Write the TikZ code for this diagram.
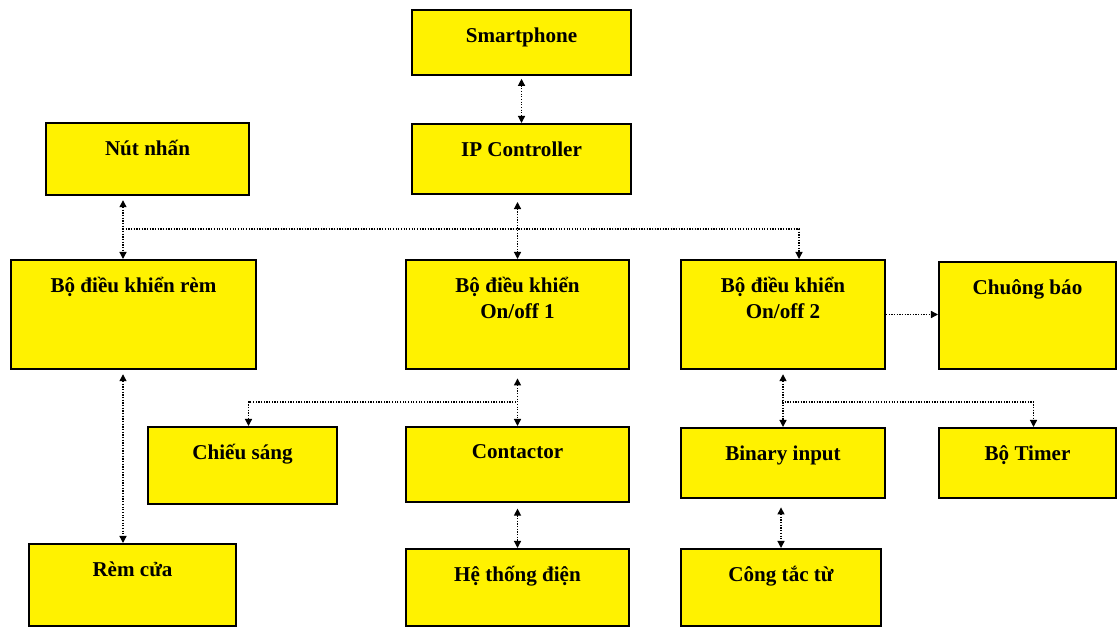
\documentclass[tikz,border=0pt]{standalone}
\usepackage{fontspec}
\setmainfont{Liberation Serif}
\usetikzlibrary{arrows.meta}

\begin{document}
\begin{tikzpicture}[
    x=0.025cm, y=-0.025cm,
    >={Triangle[length=5pt,width=5pt]},
    line width=0.8pt,
    box/.style={rectangle, draw, fill=yellow, line width=1.4pt, anchor=north west, inner sep=0pt},
    txt/.style={anchor=north, yshift=-0.45cm, align=center, inner sep=0pt, font=\bfseries\fontsize{15}{18.5}\selectfont},
    link/.style={densely dotted, line width=0.9pt}
  ]
  \useasboundingbox (0,0) rectangle (1119,635);

  % Nodes
  \node[box, minimum width=5.475cm, minimum height=1.625cm, label={[txt]north:Smartphone}] (phone) at (411,9) {};
  \node[box, minimum width=5.475cm, minimum height=1.75cm, label={[txt]north:IP Controller}] (ipctrl) at (411,123) {};
  \node[box, minimum width=5.075cm, minimum height=1.8cm, label={[txt]north:Nút nhấn}] (button) at (45,122) {};
  \node[box, minimum width=6.125cm, minimum height=2.725cm, label={[txt]north:Bộ điều khiển rèm}] (curtainctrl) at (10,259) {};
  \node[box, minimum width=5.575cm, minimum height=2.725cm, label={[txt]north:Bộ điều khiển\\On/off 1}] (onoff1) at (405,259) {};
  \node[box, minimum width=5.1cm, minimum height=2.725cm, label={[txt]north:Bộ điều khiển\\On/off 2}] (onoff2) at (680,259) {};
  \node[box, minimum width=4.425cm, minimum height=2.675cm, label={[txt]north:Chuông báo}] (bell) at (938,261) {};
  \node[box, minimum width=4.725cm, minimum height=1.925cm, label={[txt]north:Chiếu sáng}] (light) at (147,426) {};
  \node[box, minimum width=5.575cm, minimum height=1.875cm, label={[txt]north:Contactor}] (contactor) at (405,426) {};
  \node[box, minimum width=5.1cm, minimum height=1.75cm, label={[txt]north:Binary input}] (binary) at (680,427) {};
  \node[box, minimum width=4.425cm, minimum height=1.75cm, label={[txt]north:Bộ Timer}] (timer) at (938,427) {};
  \node[box, minimum width=5.175cm, minimum height=2.05cm, label={[txt]north:Rèm cửa}] (curtain) at (28,543) {};
  \node[box, minimum width=5.575cm, minimum height=1.925cm, label={[txt]north:Hệ thống điện}] (power) at (405,548) {};
  \node[box, minimum width=5cm, minimum height=1.925cm, label={[txt]north:Công tắc từ}] (relay) at (680,548) {};

  % Bus points
  \coordinate (busL) at (123,229);
  \coordinate (busM) at (516,402);
  \coordinate (busR) at (782,402);

  % Edges
  \draw[link, <->, shorten <=2pt] (phone.south) -- (ipctrl.north);
  \draw[link, <->, shorten <=5pt] (onoff1.north |- ipctrl.south) -- (onoff1.north);
  \draw[link, <->, shorten <=3pt] (busL |- button.south) -- (busL |- curtainctrl.north);
  \draw[link, ->] (busL) -| ([xshift=0.4cm]onoff2.north);
  \draw[link, <->, shorten <=3pt] (busL |- curtainctrl.south) -- (busL |- curtain.north);
  \draw[link, <->, shorten <=6pt] (onoff1.south) -- (contactor.north);
  \draw[link, ->] (busM) -| ([xshift=0.15cm]light.north);
  \draw[link, <->, shorten <=4pt] (contactor.south) -- (power.north);
  \draw[link, <->, shorten <=3pt] (onoff2.south) -- (binary.north);
  \draw[link, ->] (busR) -| ([xshift=0.15cm]timer.north);
  \draw[link, <->, shorten <=6pt] (relay.north |- binary.south) -- (relay.north);
  \draw[link, ->] (onoff2.east) -- (onoff2.east -| bell.west);

\end{tikzpicture}
\end{document}
